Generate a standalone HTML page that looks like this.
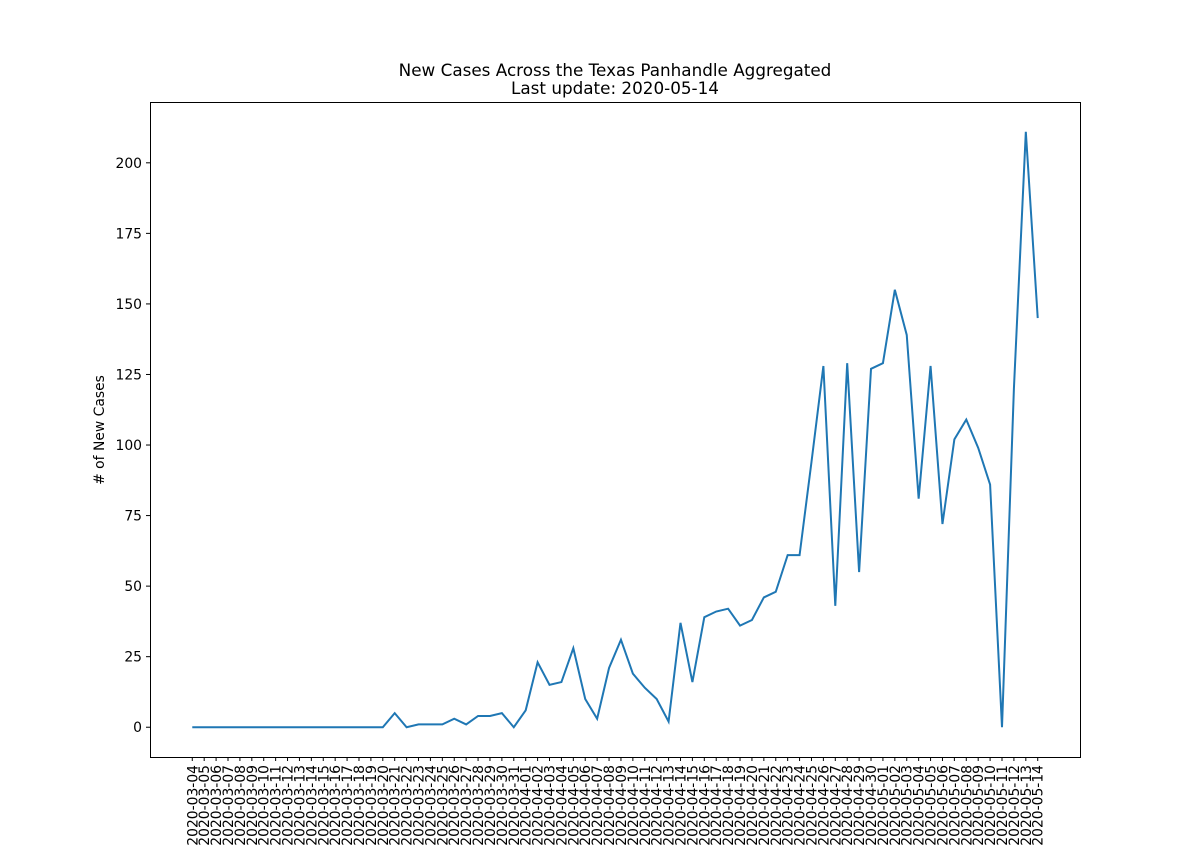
<!DOCTYPE html>
<html><head><meta charset="utf-8"><style>
body{margin:0;background:#fff;}
svg{font-family:"DejaVu Sans","Liberation Sans",sans-serif;}
</style></head><body>
<svg id="chart" width="1200" height="850" xmlns="http://www.w3.org/2000/svg">
<rect width="1200" height="850" fill="#fff"/>
<text x="615" y="76" font-size="16.8" text-anchor="middle">New Cases Across the Texas Panhandle Aggregated</text>
<text x="615" y="94" font-size="16.8" text-anchor="middle">Last update: 2020-05-14</text>
<text transform="translate(104,430) rotate(-90)" font-size="13.9" text-anchor="middle"># of New Cases</text>
<g id="ticks"></g>
<path id="line" fill="none" stroke="#1f77b4" stroke-width="2"/>
<rect x="150.5" y="102.5" width="930" height="655" fill="none" stroke="#000" stroke-width="1"/>
</svg>
<script>
const startDate = "2020-03-04";
const values = [0,0,0,0,0,0,0,0,0,0,0,0,0,0,0,0,0,5,0,1,1,1,3,1,4,4,5,0,6,23,15,16,28,10,3,21,31,19,14,10,2,37,16,39,41,42,36,38,46,48,61,61,94,128,43,129,55,127,129,155,139,81,128,72,102,109,99,86,0,120,211,145];
const yTicks = [0,25,50,75,100,125,150,175,200];

const L=150,R=1080,T=102,B=757;
const n=values.length;
const maxV=Math.max(...values), minV=Math.min(...values);
const pad=(maxV-minV)*0.05;
const y0=minV-pad, y1=maxV+pad;
const xpad=(n-1)*0.05;
function xs(i){return L+(i+xpad)/(n-1+2*xpad)*(R-L);}
function ys(v){return B-(v-y0)/(y1-y0)*(B-T);}
function dateLabel(i){
  const d=new Date(startDate+"T00:00:00Z");d.setUTCDate(d.getUTCDate()+i);
  return d.toISOString().slice(0,10);
}
const NS="http://www.w3.org/2000/svg";
const g=document.getElementById('ticks');
yTicks.forEach(v=>{
  const y=ys(v);
  const l=document.createElementNS(NS,'line');
  l.setAttribute('x1',L-4);l.setAttribute('x2',L);l.setAttribute('y1',y);l.setAttribute('y2',y);
  l.setAttribute('stroke','#000');
  
  
  g.appendChild(l);
  const t=document.createElementNS(NS,'text');
  t.setAttribute('x',L-8);t.setAttribute('y',y+5);t.setAttribute('font-size','13.9');t.setAttribute('text-anchor','end');
  t.textContent=v;
  
  
  g.appendChild(t);
});
let d='';
values.forEach((v,i)=>{
  const x=xs(i);
  d+=(i?'L':'M')+x.toFixed(2)+','+ys(v).toFixed(2);
  const l=document.createElementNS(NS,'line');
  l.setAttribute('x1',x);l.setAttribute('x2',x);l.setAttribute('y1',B);l.setAttribute('y2',B+4);
  l.setAttribute('stroke','#000');
  
  
  g.appendChild(l);
  const t=document.createElementNS(NS,'text');
  t.setAttribute('transform','translate('+(x+5)+','+(B+8)+') rotate(-90)');
  t.setAttribute('font-size','13.9');t.setAttribute('text-anchor','end');
  t.textContent=dateLabel(i);
  
  
  g.appendChild(t);
});
document.getElementById('line').setAttribute('d',d);
</script>
</body></html>
